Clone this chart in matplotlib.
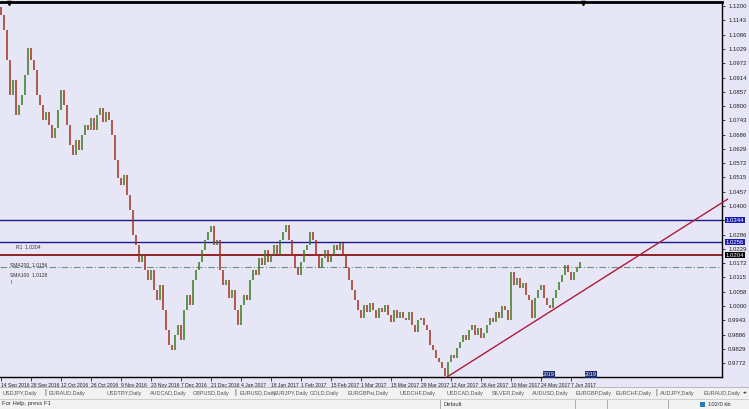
import matplotlib
matplotlib.use("Agg")
import matplotlib.pyplot as plt
from matplotlib.patches import Rectangle
from matplotlib.lines import Line2D

plt.rcParams["font.family"] = ["Liberation Sans", "DejaVu Sans"]

# ---------------- data ----------------
first_open = 1.1196
closes = [
    1.1164, 1.1104, 1.0984, 1.0844, 1.0904, 1.0764, 1.0804, 1.0844, 1.0924, 1.1032,
    1.0984, 1.0944, 1.0844, 1.0804, 1.0744, 1.0776, 1.0724, 1.0672, 1.0712, 1.0784,
    1.0864, 1.0804, 1.0724, 1.0644, 1.0604, 1.0664, 1.0624, 1.0684, 1.0724, 1.0704,
    1.0752, 1.0704, 1.0764, 1.0792, 1.0736, 1.0776, 1.0744, 1.0684, 1.0584, 1.0512,
    1.0484, 1.0524, 1.0444, 1.0384, 1.0284, 1.0244, 1.0176, 1.0204, 1.0144, 1.0104,
    1.0144, 1.0064, 1.0024, 1.0084, 0.9984, 0.9904, 0.9844, 0.9824, 0.9884, 0.9924,
    0.9864, 0.9984, 1.0044, 1.0004, 1.0104, 1.0144, 1.0176, 1.0224, 1.0264, 1.0296,
    1.0320, 1.0244, 1.0264, 1.0144, 1.0084, 1.0104, 1.0032, 1.0064, 0.9984, 0.9924,
    1.0004, 1.0044, 1.0024, 1.0104, 1.0144, 1.0124, 1.0192, 1.0164, 1.0224, 1.0176,
    1.0204, 1.0244, 1.0204, 1.0264, 1.0296, 1.0324, 1.0264, 1.0204, 1.0152, 1.0124,
    1.0176, 1.0224, 1.0244, 1.0296, 1.0264, 1.0204, 1.0152, 1.0192, 1.0224, 1.0176,
    1.0204, 1.0244, 1.0224, 1.0252, 1.0204, 1.0152, 1.0104, 1.0064, 1.0024, 0.9984,
    0.9952, 1.0004, 0.9976, 1.0012, 0.9984, 0.9952, 0.9992, 0.9976, 1.0004, 0.9964,
    0.9936, 0.9984, 0.9952, 0.9976, 0.9952, 0.9944, 0.9976, 0.9924, 0.9896, 0.9944,
    0.9952, 0.9924, 0.9904, 0.9844, 0.9824, 0.9792, 0.9776, 0.9752, 0.9720, 0.9776,
    0.9804, 0.9792, 0.9832, 0.9856, 0.9884, 0.9864, 0.9904, 0.9924, 0.9884, 0.9912,
    0.9872, 0.9892, 0.9924, 0.9952, 0.9936, 0.9976, 0.9952, 1.0000, 0.9984, 0.9944,
    1.0136, 1.0084, 1.0112, 1.0072, 1.0092, 1.0044, 1.0024, 0.9952, 1.0032, 1.0064,
    1.0084, 1.0032, 1.0004, 0.9992, 1.0032, 1.0064, 1.0096, 1.0124, 1.0164, 1.0136,
    1.0104, 1.0136, 1.0152, 1.0176,
]
blue_levels = [1.0344, 1.0256]
red_level = 1.0204
dashdot_level = 1.0156
trend_bars = [148.5, 242.0]
trend_prices = [0.9716, 1.0427]

price_ticks = [1.1200, 1.1143, 1.1086, 1.1029, 1.0972, 1.0914, 1.0857, 1.0800,
               1.0743, 1.0686, 1.0629, 1.0572, 1.0515, 1.0457, 1.0400, 1.0343,
               1.0286, 1.0229, 1.0172, 1.0115, 1.0058, 1.0000, 0.9943, 0.9886,
               0.9829, 0.9772]
price_labels = ["1.1200", "1.1143", "1.1086", "1.1029", "1.0972", "1.0914",
                "1.0857", "1.0800", "1.0743", "1.0686", "1.0629", "1.0572",
                "1.0515", "1.0457", "1.0400", "", "1.0286", "1.0229", "1.0172",
                "1.0115", "1.0058", "1.0000", "0.9943", "0.9886", "0.9829", "0.9772"]
date_ticks = [0, 10, 20, 30, 40, 50, 60, 70, 80, 90, 100, 110, 120, 130, 140,
              150, 160, 170, 180, 190]
date_labels = ["14 Sep 2016", "28 Sep 2016", "12 Oct 2016", "26 Oct 2016",
               "9 Nov 2016", "23 Nov 2016", "7 Dec 2016", "21 Dec 2016",
               "4 Jan 2017", "18 Jan 2017", "1 Feb 2017", "15 Feb 2017",
               "1 Mar 2017", "15 Mar 2017", "29 Mar 2017", "12 Apr 2017",
               "26 Apr 2017", "10 May 2017", "24 May 2017", "7 Jun 2017"]
tabs = ["USDJPY,Daily", "EURAUD,Daily", "USDTRY,Daily", "AUDCAD,Daily",
        "GBPUSD,Daily", "EURUSD,Daily", "EURJPY,Daily", "GOLD,Daily",
        "EURGBPsi,Daily", "USDCHF,Daily", "USDCAD,Daily", "SILVER,Daily",
        "AUDUSD,Daily", "EURGBP,Daily", "EURCHF,Daily", "AUDJPY,Daily",
        "EURAUD,Daily"]
tab_x = [3, 49, 107, 150, 193, 239, 273, 310, 347, 400, 447, 492, 532, 575,
         615, 660, 703]

# ---------------- figure ----------------
W, H = 749, 409
BG = "#e6e6f6"
fig = plt.figure(figsize=(W / 100, H / 100), dpi=100, facecolor=BG)

def fx(x):
    return x / W

def fy(y):
    return 1 - y / H

# bottom bars (tabs + status)
fig.patches.append(Rectangle((0, fy(409)), 1, (409 - 387) / H, transform=fig.transFigure,
                             facecolor="#f2f2f2", edgecolor="none", zorder=0))
fig.add_artist(Line2D([0, 1], [fy(398.5), fy(398.5)], color="#c8c8c8", lw=0.6,
                      transform=fig.transFigure))
fig.add_artist(Line2D([0, 1], [fy(387), fy(387)], color="#b0b0b0", lw=0.6,
                      transform=fig.transFigure))

ax = fig.add_axes([0, fy(377), fx(722), (377 - 2) / H])
ax.set_facecolor(BG)

opens = [first_open] + closes[:-1]
up_x, up_lo, up_hi, dn_x, dn_lo, dn_hi = [], [], [], [], [], []
for i, (o, c) in enumerate(zip(opens, closes)):
    if c >= o:
        up_x.append(i); up_lo.append(o); up_hi.append(c)
    else:
        dn_x.append(i); dn_lo.append(c); dn_hi.append(o)
ax.vlines(up_x, up_lo, up_hi, color="#3b7a1f", lw=1.1, zorder=3)
ax.vlines(dn_x, dn_lo, dn_hi, color="#a3301e", lw=1.1, zorder=3)

for lv in blue_levels:
    ax.axhline(lv, color="#1b1b8f", lw=1.0, zorder=2)
ax.axhline(red_level, color="#8a1212", lw=1.3, zorder=2)
ax.axhline(dashdot_level, color="#6f8f80", lw=0.8, ls=(0, (6, 2, 1, 2)), zorder=2)
ax.plot(trend_bars, trend_prices, color="#b01a3a", lw=1.0, zorder=4, clip_on=False)

ax.set_xlim(-0.5, 240.17)
ax.set_ylim(0.9716, 1.1216)

ax.spines["left"].set_visible(False)
for s in ["right", "bottom"]:
    ax.spines[s].set_color("black")
    ax.spines[s].set_linewidth(1.0)
ax.spines["top"].set_linewidth(2.0)

ax.yaxis.tick_right()
ax.set_yticks(price_ticks)
ax.set_yticklabels(price_labels)
ax.tick_params(axis="y", length=2.5, width=0.6, pad=2, labelsize=4.3, colors="#222222")
ax.set_xticks(date_ticks)
ax.set_xticklabels(date_labels, ha="left")
ax.tick_params(axis="x", length=3, width=0.6, pad=1.5, labelsize=3.6, colors="#222222")

# right-side price boxes
for lv, col in [(blue_levels[0], "#1b1bb0"), (blue_levels[1], "#1b1bb0"), (red_level, "black")]:
    ax.text(1.005, lv, f"{lv:.4f}", transform=ax.get_yaxis_transform(), fontsize=4.3,
            color="white", va="center", ha="left", zorder=6, clip_on=False,
            bbox=dict(boxstyle="square,pad=0.15", facecolor=col, edgecolor="none"))

# small object labels on the left
ax.text(5, 1.0236, "R1  1.0204", fontsize=3.6, color="#333333", va="center")
ax.text(3, 1.0164, "SMA200  1.0156", fontsize=3.6, color="#333333", va="center")
ax.text(3, 1.0124, "SMA100  1.0128", fontsize=3.6, color="#333333", va="center")
ax.text(3, 1.0096, "I", fontsize=3.6, color="#333333", va="center")

# markers at the top
ax.plot([2.5], [1.1212], marker="v", ms=3, color="black", clip_on=False, zorder=6)
ax.plot([194], [1.1214], marker="v", ms=3, color="black", clip_on=False, zorder=6)

# little boxes on the time axis
for b in [182.5, 196.5]:
    ax.text(b, 0.9726, "2019", fontsize=3.8, color="white", ha="center", va="center",
            zorder=6, bbox=dict(boxstyle="square,pad=0.1", facecolor="#1a2a6a", edgecolor="none"))

# tabs
for t, x in zip(tabs, tab_x):
    fig.text(fx(x), fy(393), t, fontsize=4.0, color="#555555", va="center", ha="left")
for x in [44, 234, 655]:
    fig.text(fx(x), fy(393), "|", fontsize=5, color="#444444", va="center")
fig.text(fx(745), fy(393), "◂▸", fontsize=3.4, color="#444444", va="center", ha="center",
         family="DejaVu Sans")

# status bar
fig.text(fx(2), fy(404), "For Help, press F1", fontsize=4.2, color="#333333", va="center")
fig.text(fx(443), fy(404), "Default", fontsize=4.2, color="#333333", va="center")
for x in [440, 575, 607, 668]:
    fig.add_artist(Line2D([fx(x), fx(x)], [fy(400), fy(408)], color="#a0a0a0", lw=0.6,
                          transform=fig.transFigure))
fig.patches.append(Rectangle((fx(700), fy(407)), fx(5), 5 / H, transform=fig.transFigure,
                             facecolor="#2a7ab8", edgecolor="none"))
fig.text(fx(708), fy(404), "102/0 kb", fontsize=4.2, color="#333333", va="center")

fig.savefig("out.png", dpi=100, facecolor=BG)
